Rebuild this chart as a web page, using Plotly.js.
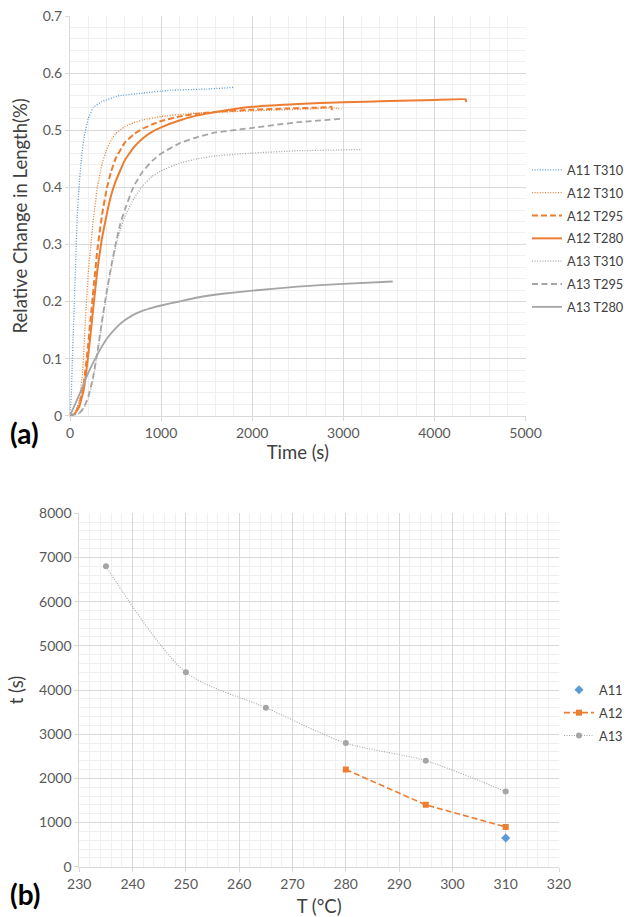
<!DOCTYPE html>
<html>
<head>
<meta charset="utf-8">
<script src="https://cdn.plot.ly/plotly-3.0.1.min.js"></script>
<style>
html,body{margin:0;padding:0;background:#fff;}
#chart{width:631px;height:917px;}
</style>
</head>
<body>
<div id="chart"></div>
<script>
// ---------- Panel (a): relative change in length vs time ----------
var a11t310_t = [0, 15, 26, 48, 62, 80, 99, 125, 157, 200, 256, 348, 527, 800, 1100, 1500, 1800];
var a11t310_v = [0, 0.04, 0.1, 0.2, 0.27, 0.35, 0.4, 0.45, 0.49, 0.52, 0.54, 0.55, 0.56, 0.565, 0.57, 0.572, 0.575];

var a12t310_t = [0, 50, 100, 140, 170, 200, 250, 300, 350, 400, 450, 500, 600, 700, 800, 1000, 1300, 1700, 2200, 2600, 2900, 2980];
var a12t310_v = [0, 0.004, 0.025, 0.08, 0.17, 0.25, 0.335, 0.4, 0.44, 0.465, 0.482, 0.494, 0.506, 0.513, 0.518, 0.524, 0.529, 0.532, 0.535, 0.537, 0.539, 0.537];

var a12t295_t = [0, 50, 100, 150, 200, 250, 300, 350, 400, 450, 500, 600, 700, 800, 900, 1000, 1200, 1400, 1700, 2000, 2400, 2800, 2870, 2875];
var a12t295_v = [0, 0.003, 0.018, 0.055, 0.125, 0.21, 0.29, 0.35, 0.395, 0.427, 0.45, 0.478, 0.493, 0.503, 0.51, 0.516, 0.524, 0.529, 0.533, 0.536, 0.538, 0.54, 0.541, 0.535];

var a12t280_t = [0, 50, 100, 150, 200, 250, 300, 350, 400, 450, 500, 600, 700, 800, 900, 1000, 1200, 1400, 1600, 2000, 2500, 3000, 3500, 4000, 4343, 4350];
var a12t280_v = [0, 0.003, 0.015, 0.045, 0.105, 0.18, 0.255, 0.31, 0.35, 0.385, 0.41, 0.447, 0.47, 0.486, 0.497, 0.505, 0.517, 0.526, 0.532, 0.541, 0.546, 0.549, 0.551, 0.553, 0.554, 0.549];

var a13t310_t = [0, 100, 150, 200, 250, 300, 350, 400, 450, 500, 550, 600, 700, 800, 900, 1000, 1200, 1400, 1600, 2000, 2500, 3190];
var a13t310_v = [0, 0.004, 0.012, 0.03, 0.06, 0.11, 0.16, 0.21, 0.255, 0.295, 0.325, 0.348, 0.38, 0.403, 0.419, 0.429, 0.442, 0.45, 0.455, 0.46, 0.464, 0.466];

var a13t295_t = [0, 100, 150, 200, 250, 300, 350, 400, 450, 500, 550, 600, 700, 800, 900, 1000, 1200, 1400, 1600, 2000, 2500, 2982];
var a13t295_v = [0, 0.004, 0.014, 0.033, 0.065, 0.11, 0.165, 0.215, 0.26, 0.3, 0.335, 0.36, 0.402, 0.428, 0.446, 0.459, 0.477, 0.488, 0.496, 0.504, 0.514, 0.52];

var a13t280_t = [0, 100, 200, 300, 400, 500, 600, 700, 800, 900, 1000, 1200, 1400, 1700, 2000, 2500, 3000, 3542];
var a13t280_v = [0, 0.036, 0.075, 0.107, 0.134, 0.153, 0.167, 0.177, 0.184, 0.189, 0.193, 0.2, 0.207, 0.214, 0.219, 0.226, 0.231, 0.235];

// ---------- Panel (b): time vs temperature ----------
var a11_T = [310];
var a11_t = [650];
var a12_T = [280, 295, 310];
var a12_t = [2200, 1400, 900];
var a13_T = [235, 250, 265, 280, 295, 310];
var a13_t = [6800, 4400, 3600, 2800, 2400, 1700];

var xTicksA = [0, 1000, 2000, 3000, 4000, 5000];
var yTicksA = [0, 0.1, 0.2, 0.3, 0.4, 0.5, 0.6, 0.7];
var xTicksB = [230, 240, 250, 260, 270, 280, 290, 300, 310, 320];
var yTicksB = [0, 1000, 2000, 3000, 4000, 5000, 6000, 7000, 8000];

var BLUE = '#5B9BD5', ORANGE = '#ED7D31', GRAY = '#A5A5A5';
var FONT = 'Lato, "Open Sans", sans-serif';
var W = 631, H = 917;

function line(name, x, y, color, width, dash) {
  return {type: 'scatter', mode: 'lines', name: name, x: x, y: y,
    xaxis: 'x', yaxis: 'y', legend: 'legend', legendgroup: name,
    line: {color: color, width: width, dash: dash, shape: 'spline', smoothing: 0.3},
    hoverinfo: 'skip'};
}

var traces = [
  line('A11 T310', a11t310_t, a11t310_v, BLUE, 1.3, '1px,1.6px'),
  line('A12 T310', a12t310_t, a12t310_v, ORANGE, 1.3, '1px,1.6px'),
  line('A12 T295', a12t295_t, a12t295_v, ORANGE, 2, '6px,3px'),
  line('A12 T280', a12t280_t, a12t280_v, ORANGE, 2, 'solid'),
  line('A13 T310', a13t310_t, a13t310_v, GRAY, 1.3, '1px,1.6px'),
  line('A13 T295', a13t295_t, a13t295_v, GRAY, 1.8, '6px,3.5px'),
  line('A13 T280', a13t280_t, a13t280_v, GRAY, 1.8, 'solid'),
  {type: 'scatter', mode: 'markers', name: 'A11', x: a11_T, y: a11_t,
    xaxis: 'x2', yaxis: 'y2', legend: 'legend2', legendgroup: 'A11',
    marker: {symbol: 'diamond', size: 7, color: BLUE}},
  {type: 'scatter', mode: 'lines+markers', name: 'A12', x: a12_T, y: a12_t,
    xaxis: 'x2', yaxis: 'y2', legend: 'legend2', legendgroup: 'A12',
    line: {color: ORANGE, width: 1.6, dash: '6px,3px'},
    marker: {symbol: 'square', size: 6, color: ORANGE}},
  {type: 'scatter', mode: 'lines+markers', name: 'A13', x: a13_T, y: a13_t,
    xaxis: 'x2', yaxis: 'y2', legend: 'legend2', legendgroup: 'A13',
    line: {color: GRAY, width: 1.1, dash: '1px,1.5px', shape: 'spline', smoothing: 0.8},
    marker: {symbol: 'circle', size: 6, color: GRAY}}
];

var grid = '#D9D9D9', minorGrid = '#F0F0F0', tickFont = {family: FONT, size: 14, color: '#595959'};
var titleFont = {family: FONT, size: 18.5, color: '#404040'};
function axis(extra) {
  var base = {showgrid: true, gridcolor: grid, gridwidth: 1, zeroline: false,
    showline: true, linecolor: grid, linewidth: 1,
    ticks: 'outside', ticklen: 4, tickcolor: grid, tickfont: tickFont,
    automargin: false, fixedrange: true};
  for (var k in extra) base[k] = extra[k];
  return base;
}

var legendFont = {family: FONT, size: 12.8, color: '#404040'};
var layout = {
  width: W, height: H,
  margin: {l: 0, r: 0, t: 0, b: 0, autoexpand: false},
  paper_bgcolor: '#fff', plot_bgcolor: '#fff',
  showlegend: true,
  xaxis: axis({domain: [70 / W, 525.5 / W], range: [0, 5000], tickvals: xTicksA, anchor: 'y',
    minor: {dtick: 200, showgrid: true, gridcolor: minorGrid, ticks: ''},
    title: {text: 'Time (s)', font: titleFont, standoff: 6}}),
  yaxis: axis({domain: [1 - 415.7 / H, 1 - 16 / H], range: [0, 0.7], tickvals: yTicksA, anchor: 'x',
    minor: {dtick: 0.02, showgrid: true, gridcolor: minorGrid, ticks: ''},
    title: {text: 'Relative Change in Length(%)', font: titleFont, standoff: 10}}),
  xaxis2: axis({domain: [79.3 / W, 559 / W], range: [230, 320], tickvals: xTicksB, anchor: 'y2',
    minor: {dtick: 2, showgrid: true, gridcolor: minorGrid, ticks: ''},
    title: {text: 'T (°C)', font: titleFont, standoff: 10}}),
  yaxis2: axis({domain: [1 - 866.7 / H, 1 - 513.3 / H], range: [0, 8000], tickvals: yTicksB, anchor: 'x2',
    minor: {dtick: 200, showgrid: true, gridcolor: minorGrid, ticks: ''},
    title: {text: 't (s)', font: titleFont, standoff: 10}}),
  legend: {x: 527 / W, xanchor: 'left', y: 1 - 155 / H, yanchor: 'top',
    font: legendFont, bgcolor: 'rgba(0,0,0,0)',
    traceorder: 'grouped', tracegroupgap: 3.2, itemwidth: 30},
  legend2: {x: 559 / W, xanchor: 'left', y: 1 - 675 / H, yanchor: 'top',
    font: legendFont, bgcolor: 'rgba(0,0,0,0)',
    traceorder: 'grouped', tracegroupgap: 3.2, itemwidth: 30},
  annotations: [
    {text: '<b>(a)</b>', xref: 'paper', yref: 'paper', x: 8 / W, y: 1 - 433 / H,
      xanchor: 'left', yanchor: 'middle', showarrow: false, font: {family: FONT, size: 28, color: '#000'}},
    {text: '<b>(b)</b>', xref: 'paper', yref: 'paper', x: 8 / W, y: 1 - 894 / H,
      xanchor: 'left', yanchor: 'middle', showarrow: false, font: {family: FONT, size: 28, color: '#000'}}
  ]
};

Plotly.newPlot('chart', traces, layout, {displayModeBar: false, staticPlot: true});
</script>
</body>
</html>
